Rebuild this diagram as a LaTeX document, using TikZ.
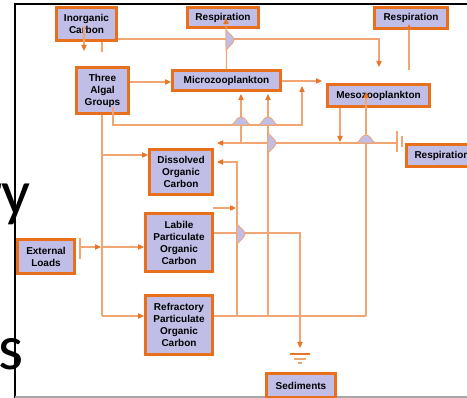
\documentclass[tikz,border=0pt]{standalone}
\usepackage{fontspec}
\setmainfont{Liberation Sans}
\newfontfamily\slidefont{Carlito}
\usetikzlibrary{arrows.meta}
\definecolor{boxfill}{RGB}{192,190,230}
\definecolor{boxedge}{RGB}{232,112,28}
\definecolor{lnc}{RGB}{240,165,115}
\definecolor{arc}{RGB}{232,118,40}
\begin{document}
\begin{tikzpicture}[x=0.75pt,y=-0.75pt,
  box/.style={draw=boxedge,fill=boxfill,line width=2.2pt,inner sep=1pt,align=center,
    font=\bfseries\fontsize{7.5}{9}\selectfont},
  ln/.style={draw=lnc,line width=0.8pt},
  arr/.style={ln,-{Triangle[length=4.5pt,width=4pt,color=arc]}},
  bump/.style={fill=boxfill,draw=lnc,line width=0.6pt},
  big/.style={anchor=base east,inner sep=0pt,font=\slidefont\fontsize{48}{48}\selectfont}]
\useasboundingbox (0,0) rectangle (467,398);
\newcommand\hbump[2]{\filldraw[bump] (#1-11,#2) .. controls (#1-5,#2) and (#1-6,#2-8) .. (#1,#2-8) .. controls (#1+6,#2-8) and (#1+5,#2) .. (#1+11,#2) -- cycle;}
\newcommand\vbump[2]{\filldraw[bump] (#1,#2-10) .. controls (#1+3,#2-7) and (#1+8,#2-3) .. (#1+8,#2) .. controls (#1+8,#2+3) and (#1+3,#2+7) .. (#1,#2+10) -- cycle;}

% slide background letters
\node[big] (lt1) at (31,215) {r\kern-1pt y};
\node[big] (lt2) at (24,369) {s};

% frame
\draw[black,line width=1.5pt] (15,398) -- (15,4) -- (467,4);
\draw[gray!70,line width=0.8pt] (15,397) -- (467,397);

% boxes
\node[box,minimum width=45pt,minimum height=24.75pt] (inorg) at (86.5,24) {Inorganic\\Carbon};
\node[box,minimum width=53.25pt,minimum height=15pt] (resp1) at (223,17.5) {Respiration};
\node[box,minimum width=54.75pt,minimum height=15.75pt] (resp2) at (411,18) {Respiration};
\node[box,minimum width=39pt,minimum height=34.5pt] (algal) at (102.5,90.5) {Three\\Algal\\Groups};
\node[box,minimum width=81pt,minimum height=15pt] (micro) at (226.5,80.5) {Microzooplankton};
\node[box,minimum width=76.5pt,minimum height=16.5pt] (meso) at (378.5,95.5) {Mesozooplankton};
\node[box,minimum width=53.25pt,minimum height=16.5pt] (resp3) at (442,155.5) {Respiration};
\node[box,minimum width=47.25pt,minimum height=33.75pt] (doc) at (181,172) {Dissolved\\Organic\\Carbon};
\node[box,minimum width=50.25pt,minimum height=43.5pt] (labile) at (179,242.5) {Labile\\Particulate\\Organic\\Carbon};
\node[box,minimum width=42.75pt,minimum height=25.5pt] (ext) at (46,256.5) {External\\Loads};
\node[box,minimum width=50.25pt,minimum height=44.25pt] (refr) at (179,325) {Refractory\\Particulate\\Organic\\Carbon};
\node[box,minimum width=51.75pt,minimum height=18pt] (sed) at (301,385.5) {Sediments};

% junction coordinates
\coordinate (jA) at (102,155);
\coordinate (jB) at (102,247);
\coordinate (jC) at (102,316);
\coordinate (jD) at (237,316);
\coordinate (jE) at (268,316);
\coordinate (jF) at (366,316);
\coordinate (gnd) at (300,348);
\coordinate (bus) at (397,143);

% connectors
\draw[arr] (84,26) -- (84,51);
\draw[ln] (inorg.south -| 102,0) -- (102,52);
\draw[arr] (inorg.east |- 0,39) -- (379,39) -- (379,67);
\draw[arr] (micro.north) -- (226,18);
\draw[arr] (algal.east |- 0,82) -- (micro.west |- 0,82);
\draw[arr] (micro.east |- 0,81) -- (322,81);
\draw[arr] (113,107) -- (113,125) -- (302,125) -- (302,86);
\draw[arr] (241,143) -- (241,94);
\draw[arr] (jE) -- (268,94);
\draw[arr] (jF) -- (366,92);
\draw[ln] (refr.east |- jC) -- (jF);
\draw[arr] (jD) -- (237,162) -- (217,162);
\draw[arr] (bus) -- (217,143);
\draw[ln] (397,131) -- (397,152);
\draw[ln] (402,136) -- (402,147);
\draw[arr] (meso.south -| 340,0) -- (340,142);
\draw[ln] (algal.south -| jC) -- (jC);
\draw[arr] (jA) -- (doc.west |- jA);
\draw[arr] (jB) -- (labile.west |- jB);
\draw[arr] (jC) -- (refr.west |- jC);
\draw[ln] (80,238) -- (80,259);
\draw[arr] (80,247) -- (101,247);
\draw[arr] (213,208) -- (236,208);
\draw[arr] (labile.east |- 0,233) -- (300,233) -- (gnd);
\draw[arr] (409,70) -- (409,24);

% ground symbol
\draw[ln,draw=arc] (290,354) -- (310,354);
\draw[ln] (294,359) -- (306,359);
\draw[ln] (298,363) -- (302,363);

% crossing bumps
\vbump{226}{40}
\hbump{241}{125}
\hbump{268}{125}
\vbump{268}{143}
\hbump{366}{143}
\vbump{237}{234}
\end{tikzpicture}
\end{document}
